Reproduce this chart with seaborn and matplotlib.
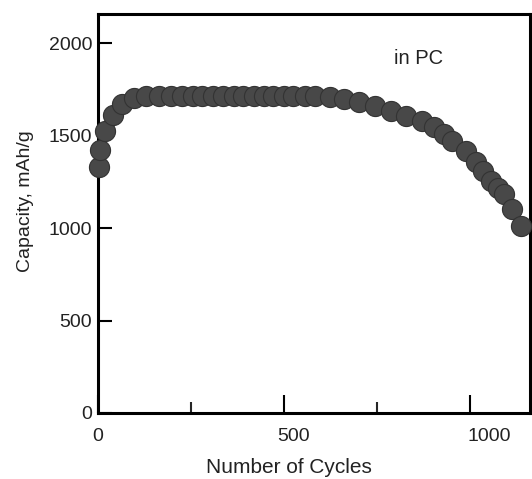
import numpy as np
import pandas as pd
import seaborn as sns
import matplotlib.pyplot as plt
from matplotlib.ticker import MultipleLocator
from matplotlib.transforms import ScaledTranslation

# cycle numbers and capacities
cycles = [3, 6, 20, 40, 65, 97, 130, 165, 195, 225, 255, 280, 310, 335, 365,
          390, 420, 445, 470, 500, 525, 555, 582, 622, 662, 702, 745, 788,
          828, 869, 903, 930, 952, 989, 1016, 1035, 1056, 1075, 1091, 1113,
          1137]
capacity = [1330, 1425, 1525, 1615, 1670, 1705, 1715, 1715, 1715, 1715, 1715,
            1715, 1715, 1715, 1715, 1715, 1715, 1715, 1715, 1715, 1715, 1715,
            1715, 1712, 1700, 1685, 1663, 1636, 1609, 1580, 1548, 1510, 1473,
            1418, 1360, 1310, 1255, 1220, 1185, 1103, 1011]

df = pd.DataFrame({'cycles': cycles, 'capacity': capacity})

sns.set_theme(style='white')
plt.rcParams['font.family'] = ['Liberation Sans', 'DejaVu Sans']

fig = plt.figure(figsize=(5.32, 4.79), dpi=100)
ax = fig.add_axes([0.184, 0.138, 0.812, 0.833])

sns.scatterplot(data=df, x='cycles', y='capacity', ax=ax, s=210,
                color='#484848', edgecolor='#333333', linewidth=0.8,
                clip_on=False, zorder=3)

ax.set_xlim(0, 1160)
ax.set_ylim(0, 2160)
ax.set_xticks([0, 500, 1000])
ax.xaxis.set_minor_locator(MultipleLocator(250))
ax.yaxis.set_major_locator(MultipleLocator(500))

ax.tick_params(axis='both', which='major', direction='in', width=1.5,
               labelsize=14, color='black', labelcolor='#222222')
ax.tick_params(axis='x', which='major', length=13, pad=11, bottom=True)
ax.tick_params(axis='x', which='minor', direction='in', length=8,
               width=1.5, bottom=True)
ax.tick_params(axis='y', which='major', length=10, pad=4, left=True)

# x tick labels sit a little right of their ticks in the original
for lbl, dx in zip(ax.get_xticklabels(), [0, 9, 19]):
    lbl.set_transform(lbl.get_transform() +
                      ScaledTranslation(dx / 100, 0, fig.dpi_scale_trans))

for sp in ax.spines.values():
    sp.set_linewidth(2.2)
    sp.set_color('black')

ax.set_xlabel('Number of Cycles', fontsize=15, color='#222222')
ax.set_ylabel('Capacity, mAh/g', fontsize=14, color='#222222')
ax.xaxis.set_label_coords(0.442, -0.113)
ax.yaxis.set_label_coords(-0.148, 0.53)

ax.text(795, 1918, 'in PC', fontsize=14.5, color='#222222', va='center')

plt.savefig('out.png', dpi=100)
